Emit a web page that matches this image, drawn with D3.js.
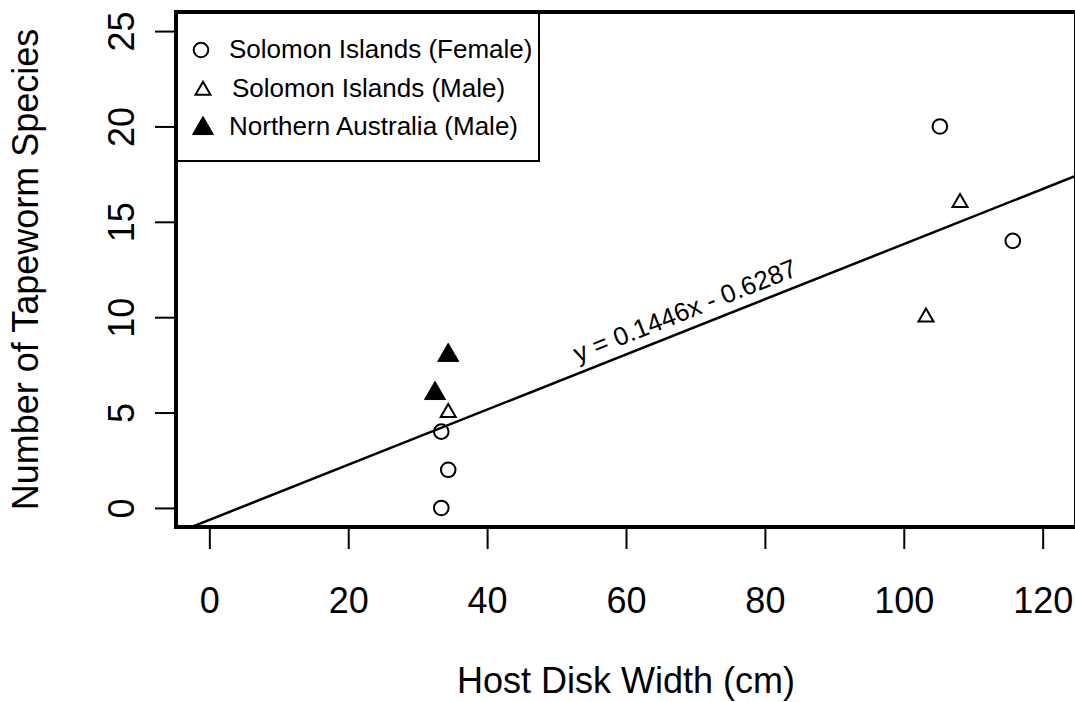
<!DOCTYPE html>
<html>
<head>
<meta charset="utf-8">
<script src="https://cdn.jsdelivr.net/npm/d3@7"></script>
<style>
	body{margin:0;background:#fff;}
	svg{display:block;font-family:"Liberation Sans",Arial,sans-serif;}
</style>
</head>
<body>
<div id="chart"></div>
<script>
//Data
const femaleWidth = [33.4, 34.4, 33.4, 105.2, 115.7];
const femaleSpecies = [0, 2, 4, 20, 14];
const maleWidth = [34.4, 103.2, 108.1];
const maleSpecies = [5, 10, 16];
const ausWidth = [32.5, 34.4];
const ausSpecies = [6, 8];

const xTicks = [0, 20, 40, 60, 80, 100, 120];
const yTicks = [0, 5, 10, 15, 20, 25];
const xLimits = [0, 120];
const yLimits = [0, 25];

const fitSlope = 0.1446;
const fitIntercept = -0.6287;
const fitLabel = 'y = 0.1446x - 0.6287';

const legendLabels = ['Solomon Islands (Female)', 'Solomon Islands (Male)', 'Northern Australia (Male)'];
const legendShapes = ['circle', 'triangle', 'filled'];

const xTitle = 'Host Disk Width (cm)';
const yTitle = 'Number of Tapeworm Species';

const width = 1075;
const height = 702;
const plot = {l:176, r:1076, t:12, b:527};

//R style axis limits, padded by 4%
const pad = l => [l[0] - (l[1]-l[0])*0.04, l[1] + (l[1]-l[0])*0.04];
const scaleX = d3.scaleLinear().domain(pad(xLimits)).range([plot.l, plot.r]);
const scaleY = d3.scaleLinear().domain(pad(yLimits)).range([plot.b, plot.t]);

const svg = d3.select('#chart').append('svg')
	.attr('width', width)
	.attr('height', height);

svg.append('defs').append('clipPath')
	.attr('id', 'plot-clip')
	.append('rect')
	.attr('x', plot.l).attr('y', plot.t)
	.attr('width', plot.r - plot.l).attr('height', plot.b - plot.t);

//Triangle path centred on its centroid, side s
const triangle = s => {
	const h = s*Math.sqrt(3)/2;
	return `M0,${-2*h/3}L${s/2},${h/3}L${-s/2},${h/3}Z`;
};

//Axes
const axisX = d3.axisBottom(scaleX)
	.tickValues(xTicks)
	.tickSize(22)
	.tickPadding(38);
const axisXNode = svg.append('g')
	.attr('class', 'axis axis-x')
	.attr('transform', `translate(0,${plot.b})`)
	.call(axisX);
axisXNode.select('.domain').remove();
axisXNode.selectAll('line').attr('stroke', '#000').attr('stroke-width', 2);
axisXNode.selectAll('text')
	.attr('font-size', 36)
	.attr('font-family', '"Liberation Sans",Arial,sans-serif')
	.attr('fill', '#000');

const axisY = d3.axisLeft(scaleY)
	.tickValues(yTicks)
	.tickSize(21);
const axisYNode = svg.append('g')
	.attr('class', 'axis axis-y')
	.attr('transform', `translate(${plot.l},0)`)
	.call(axisY);
axisYNode.select('.domain').remove();
axisYNode.selectAll('line').attr('stroke', '#000').attr('stroke-width', 2);
axisYNode.selectAll('text')
	.attr('x', null)
	.attr('dy', null)
	.attr('text-anchor', 'middle')
	.attr('transform', 'translate(-42,0) rotate(-90)')
	.attr('font-size', 36)
	.attr('font-family', '"Liberation Sans",Arial,sans-serif')
	.attr('fill', '#000');

//Titles
svg.append('text')
	.attr('x', (plot.l + plot.r)/2)
	.attr('y', 693)
	.attr('text-anchor', 'middle')
	.attr('font-size', 36)
	.text(xTitle);
svg.append('text')
	.attr('transform', `translate(38,${(plot.t + plot.b)/2}) rotate(-90)`)
	.attr('text-anchor', 'middle')
	.attr('font-size', 36)
	.text(yTitle);

//Regression line
const fit = x => fitSlope*x + fitIntercept;
const lineDomain = scaleX.domain();
svg.append('g')
	.attr('clip-path', 'url(#plot-clip)')
	.append('line')
	.attr('x1', scaleX(lineDomain[0]))
	.attr('y1', scaleY(fit(lineDomain[0])))
	.attr('x2', scaleX(lineDomain[1]))
	.attr('y2', scaleY(fit(lineDomain[1])))
	.attr('stroke', '#000')
	.attr('stroke-width', 2.5);

//Label along the line
const angle = Math.atan2(scaleY(fit(100)) - scaleY(fit(0)), scaleX(100) - scaleX(0));
const labelX = 69.5;
const off = 10;
const lx = scaleX(labelX) + Math.sin(angle)*off;
const ly = scaleY(fit(labelX)) - Math.cos(angle)*off;
svg.append('text')
	.attr('transform', `translate(${lx},${ly}) rotate(${angle*180/Math.PI})`)
	.attr('text-anchor', 'middle')
	.attr('font-size', 26)
	.text(fitLabel);

//Points
const points = svg.append('g').attr('class', 'points');
points.selectAll('.female')
	.data(d3.zip(femaleWidth, femaleSpecies))
	.enter().append('circle')
	.attr('class', 'female')
	.attr('cx', d => scaleX(d[0]))
	.attr('cy', d => scaleY(d[1]))
	.attr('r', 7.3)
	.attr('fill', 'none')
	.attr('stroke', '#000')
	.attr('stroke-width', 2);

points.selectAll('.male')
	.data(d3.zip(maleWidth, maleSpecies))
	.enter().append('path')
	.attr('class', 'male')
	.attr('transform', d => `translate(${scaleX(d[0])},${scaleY(d[1])})`)
	.attr('d', triangle(15))
	.attr('fill', 'none')
	.attr('stroke', '#000')
	.attr('stroke-width', 2);

points.selectAll('.aus')
	.data(d3.zip(ausWidth, ausSpecies))
	.enter().append('path')
	.attr('class', 'aus')
	.attr('transform', d => `translate(${scaleX(d[0])},${scaleY(d[1])})`)
	.attr('d', triangle(21))
	.attr('fill', '#000')
	.attr('stroke', '#000')
	.attr('stroke-width', 1);

//Legend
const legend = svg.append('g').attr('class', 'legend');
legend.append('rect')
	.attr('x', plot.l)
	.attr('y', plot.t)
	.attr('width', 363)
	.attr('height', 149)
	.attr('fill', '#fff')
	.attr('stroke', '#000')
	.attr('stroke-width', 2);

const rows = legend.selectAll('.row')
	.data(legendLabels)
	.enter().append('g')
	.attr('class', 'row')
	.attr('transform', (d,i) => `translate(${plot.l},${49 + i*38.5})`);

rows.each(function(d,i){
	const g = d3.select(this);
	const shape = legendShapes[i];
	if(shape === 'circle'){
		g.append('circle')
			.attr('cx', 25).attr('cy', 1).attr('r', 7.3)
			.attr('fill', 'none').attr('stroke', '#000').attr('stroke-width', 2);
	}else{
		g.append('path')
			.attr('transform', `translate(27,${shape === 'filled' ? 2.5 : 3})`)
			.attr('d', triangle(shape === 'filled' ? 21 : 15))
			.attr('fill', shape === 'filled' ? '#000' : 'none')
			.attr('stroke', '#000')
			.attr('stroke-width', shape === 'filled' ? 1 : 2);
	}
	g.append('text')
		.attr('x', shape === 'triangle' ? 56 : 53)
		.attr('y', 9.3)
		.attr('font-size', 26)
		.text(d);
});

//Plot box, drawn last so it sits on top
svg.append('rect')
	.attr('x', plot.l)
	.attr('y', plot.t)
	.attr('width', plot.r - plot.l)
	.attr('height', plot.b - plot.t)
	.attr('fill', 'none')
	.attr('stroke', '#000')
	.attr('stroke-width', 4);
</script>
</body>
</html>
